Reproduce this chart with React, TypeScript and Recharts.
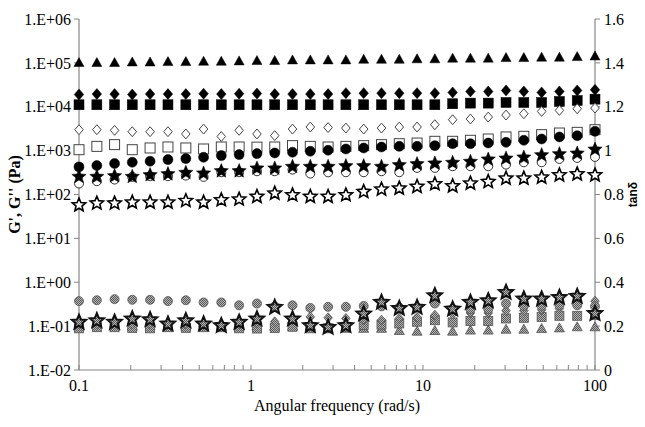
import React from 'react';
import { ScatterChart, Scatter, XAxis, YAxis } from 'recharts';

// Angular frequency (rad/s)
const freq = [0.1, 0.127, 0.161, 0.204, 0.259, 0.329, 0.418, 0.53, 0.672, 0.853, 1.083, 1.374, 1.743, 2.212, 2.807, 3.562, 4.52, 5.736, 7.279, 9.237, 11.72, 14.87, 18.87, 23.95, 30.39, 38.57, 48.94, 62.1, 78.8, 100];

// G', G'' (Pa) – left axis
const filledTriangle = [101800, 101800, 101800, 105000, 105000, 107000, 107000, 109000, 109000, 111000, 113000, 113000, 117000, 117000, 117000, 117000, 121000, 121000, 121000, 124000, 124000, 128000, 128000, 128000, 132000, 132000, 135000, 135000, 139000, 144000];
const filledDiamond = [19000, 19400, 19400, 19000, 19400, 19400, 19400, 19800, 19400, 19800, 20000, 19400, 19400, 19400, 19400, 20400, 20400, 20400, 20400, 20400, 20400, 21200, 22300, 22300, 23500, 22300, 21200, 22300, 23500, 24300];
const filledSquare = [11100, 11100, 11100, 11100, 11100, 11100, 11100, 11100, 11100, 11100, 11100, 11100, 11100, 11100, 11100, 11100, 11100, 11100, 11100, 11100, 11100, 11700, 12100, 12100, 12500, 12500, 12500, 13200, 13900, 14900];
const openDiamond = [3000, 3000, 2900, 2700, 2700, 2700, 2400, 3100, 2100, 2900, 2400, 2200, 3100, 3450, 3350, 3270, 3100, 3270, 3450, 3450, 3900, 5070, 5250, 5820, 6470, 6930, 7830, 8260, 9010, 9330];
const openSquare = [1050, 1250, 1370, 1050, 1150, 1210, 1150, 1090, 1210, 1210, 1200, 1210, 1300, 1250, 1210, 1250, 1300, 1370, 1440, 1490, 1630, 1630, 1720, 1840, 2050, 2120, 2310, 2520, 2610, 3000];
const filledCircle = [426, 456, 507, 543, 573, 624, 658, 705, 770, 811, 855, 885, 916, 966, 1018, 1090, 1150, 1210, 1250, 1250, 1300, 1440, 1440, 1490, 1545, 1720, 1840, 2050, 2190, 2750];
const openCircle = [178, 201, 219, 252, 261, 261, 270, 252, 322, 322, 339, 339, 370, 300, 320, 322, 322, 339, 322, 404, 404, 441, 441, 441, 481, 543, 543, 647, 681, 718];
const filledStar = [261, 261, 270, 261, 285, 300, 322, 311, 351, 351, 404, 404, 441, 441, 441, 456, 456, 441, 481, 507, 525, 543, 573, 647, 681, 718, 811, 855, 885, 1090];
const openStar = [59, 65, 65, 68, 68, 68, 74, 68, 77, 80, 92, 109, 100, 92, 92, 100, 119, 135, 142, 155, 178, 160, 184, 201, 239, 239, 252, 285, 300, 285];

// tan delta – right axis
const tanTriangle = [0.2, 0.21, 0.2, 0.2, 0.2, 0.2, 0.2, 0.215, 0.2, 0.2, 0.2, 0.2, 0.2, 0.2, 0.19, 0.19, 0.19, 0.19, 0.18, 0.177, 0.18, 0.177, 0.182, 0.182, 0.186, 0.186, 0.189, 0.192, 0.197, 0.197];
const tanSquare = [0.19, 0.195, 0.195, 0.192, 0.19, 0.195, 0.192, 0.195, 0.195, 0.19, 0.189, 0.192, 0.197, 0.19, 0.19, 0.197, 0.205, 0.207, 0.212, 0.22, 0.227, 0.217, 0.223, 0.223, 0.235, 0.238, 0.242, 0.247, 0.247, 0.25];
const tanDiamond = [0.21, 0.21, 0.21, 0.21, 0.21, 0.21, 0.21, 0.21, 0.21, 0.21, 0.215, 0.22, 0.23, 0.242, 0.238, 0.235, 0.23, 0.227, 0.235, 0.24, 0.25, 0.255, 0.26, 0.26, 0.27, 0.27, 0.275, 0.28, 0.3, 0.314];
const tanCircle = [0.314, 0.318, 0.323, 0.32, 0.32, 0.314, 0.318, 0.308, 0.308, 0.295, 0.303, 0.29, 0.295, 0.283, 0.288, 0.288, 0.292, 0.29, 0.285, 0.285, 0.303, 0.28, 0.277, 0.277, 0.303, 0.292, 0.292, 0.295, 0.295, 0.29];
const tanStar = [0.22, 0.227, 0.22, 0.235, 0.232, 0.212, 0.227, 0.212, 0.205, 0.22, 0.235, 0.288, 0.235, 0.205, 0.197, 0.205, 0.258, 0.311, 0.283, 0.288, 0.341, 0.28, 0.311, 0.318, 0.356, 0.326, 0.326, 0.333, 0.338, 0.26];

// axis ticks
const xTicks = [0.1, 0.2, 0.3, 0.4, 0.5, 0.6, 0.7, 0.8, 0.9, 1, 2, 3, 4, 5, 6, 7, 8, 9, 10, 20, 30, 40, 50, 60, 70, 80, 90, 100];
const xMajor = [0.1, 1, 10, 100];
const leftTicks = [0.01, 0.1, 1, 10, 100, 1000, 10000, 100000, 1000000];
const rightTicks = [0, 0.2, 0.4, 0.6, 0.8, 1, 1.2, 1.4, 1.6];

const toRows = (vals: number[]) => vals.map((v, i) => ({ f: freq[i], v }));

const AXIS = '#868686';
const SERIF = '"Liberation Serif", "Times New Roman", serif';

type Kind = 'triangle' | 'diamond' | 'square' | 'circle' | 'star';

function starPoints(cx: number, cy: number, R: number, r: number) {
  const pts: string[] = [];
  for (let k = 0; k < 10; k++) {
    const ang = -Math.PI / 2 + (k * Math.PI) / 5;
    const rad = k % 2 === 0 ? R : r;
    pts.push(`${cx + rad * Math.cos(ang)},${cy + rad * Math.sin(ang)}`);
  }
  return pts.join(' ');
}

function Marker(props: any) {
  const { cx, cy, kind, size, fill, stroke, sw } = props;
  if (cx == null || cy == null || isNaN(cx) || isNaN(cy)) return null;
  const h = size / 2;
  const common = { fill, stroke, strokeWidth: sw, strokeLinejoin: 'miter' as const };
  switch (kind as Kind) {
    case 'circle':
      return <circle cx={cx} cy={cy} r={h} {...common} />;
    case 'square':
      return <rect x={cx - h} y={cy - h} width={size} height={size} {...common} />;
    case 'diamond':
      return <polygon points={`${cx},${cy - h * 1.1} ${cx + h * 0.95},${cy} ${cx},${cy + h * 1.1} ${cx - h * 0.95},${cy}`} {...common} />;
    case 'triangle':
      return <polygon points={`${cx},${cy - h} ${cx + h},${cy + h * 0.8} ${cx - h},${cy + h * 0.8}`} {...common} />;
    case 'star':
      return <polygon points={starPoints(cx, cy + 0.5, h, h * 0.45)} {...common} />;
  }
  return null;
}

const PAT = 'url(#chk)';

const series = [
  { name: 'tri', data: filledTriangle, axis: 'left', kind: 'triangle', size: 10, fill: '#000', stroke: '#000', sw: 0.5 },
  { name: 'dia', data: filledDiamond, axis: 'left', kind: 'diamond', size: 10, fill: '#000', stroke: '#000', sw: 0.5 },
  { name: 'sq', data: filledSquare, axis: 'left', kind: 'square', size: 10, fill: '#000', stroke: '#000', sw: 0.5 },
  { name: 'odia', data: openDiamond, axis: 'left', kind: 'diamond', size: 9, fill: '#fff', stroke: '#444', sw: 1 },
  { name: 'osq', data: openSquare, axis: 'left', kind: 'square', size: 10, fill: '#fff', stroke: '#444', sw: 1 },
  { name: 'fc', data: filledCircle, axis: 'left', kind: 'circle', size: 10, fill: '#000', stroke: '#000', sw: 0.5 },
  { name: 'oc', data: openCircle, axis: 'left', kind: 'circle', size: 9, fill: '#fff', stroke: '#000', sw: 0.8 },
  { name: 'fs', data: filledStar, axis: 'left', kind: 'star', size: 15, fill: '#000', stroke: '#000', sw: 0.5 },
  { name: 'os', data: openStar, axis: 'left', kind: 'star', size: 14, fill: '#fff', stroke: '#000', sw: 1.6 },
  { name: 'ttri', data: tanTriangle, axis: 'right', kind: 'triangle', size: 10, fill: PAT, stroke: '#555', sw: 0.8 },
  { name: 'tsq', data: tanSquare, axis: 'right', kind: 'square', size: 9, fill: PAT, stroke: '#555', sw: 0.8 },
  { name: 'tdia', data: tanDiamond, axis: 'right', kind: 'diamond', size: 9, fill: PAT, stroke: '#555', sw: 0.8 },
  { name: 'tc', data: tanCircle, axis: 'right', kind: 'circle', size: 9, fill: PAT, stroke: '#555', sw: 0.8 },
  { name: 'ts', data: tanStar, axis: 'right', kind: 'star', size: 15, fill: PAT, stroke: '#111', sw: 2 },
];

const fmtLeft = (v: number) => {
  const e = Math.round(Math.log10(v));
  return `1.E${e >= 0 ? '+' : '-'}${String(Math.abs(e)).padStart(2, '0')}`;
};
const fmtRight = (v: number) => String(Number(v.toFixed(1)));

function XTick(props: any) {
  const { x, y, payload } = props;
  const v = payload.value;
  const major = xMajor.some((m) => Math.abs(m - v) < 1e-9);
  return (
    <g>
      <line x1={x} x2={x} y1={y} y2={y - 5} stroke={AXIS} strokeWidth={1} />
      {major && (
        <text x={x} y={y + 21} textAnchor="middle" fontFamily={SERIF} fontSize={16} fill="#000">
          {String(v)}
        </text>
      )}
    </g>
  );
}

export default function App() {
  return (
    <div style={{ position: 'absolute', left: 0, top: 0, width: 645, height: 427, background: '#fff' }}>
      <ScatterChart width={645} height={427} margin={{ top: 19, right: 0, bottom: 0, left: 0 }}>
        <defs>
          <pattern id="chk" width="2" height="2" patternUnits="userSpaceOnUse">
            <rect x="0" y="0" width="2" height="2" fill="#b4b4b4" />
            <rect x="0" y="0" width="1" height="1" fill="#5a5a5a" />
            <rect x="1" y="1" width="1" height="1" fill="#5a5a5a" />
          </pattern>
        </defs>
        <XAxis
          type="number"
          dataKey="f"
          scale="log"
          domain={[0.1, 100]}
          ticks={xTicks}
          interval={0}
          height={57}
          tickSize={0}
          tickMargin={0}
          tickLine={false}
          axisLine={{ stroke: AXIS, strokeWidth: 1.2 }}
          tick={<XTick />}
          label={{ value: 'Angular frequency (rad/s)', position: 'insideBottom', offset: 16, style: { fontFamily: SERIF, fontSize: 16, fill: '#000' } }}
        />
        <YAxis
          yAxisId="left"
          orientation="left"
          type="number"
          dataKey="v"
          scale="log"
          domain={[0.01, 1000000]}
          allowDataOverflow
          ticks={leftTicks}
          interval={0}
          width={79}
          tickSize={5}
          tickMargin={3}
          tickFormatter={fmtLeft}
          stroke={AXIS}
          axisLine={{ stroke: AXIS, strokeWidth: 1.2 }}
          tickLine={{ stroke: AXIS }}
          tick={{ fill: '#000', fontFamily: SERIF, fontSize: 16 }}
          label={{ value: "G', G'' (Pa)", angle: -90, position: 'insideLeft', offset: 14, style: { textAnchor: 'middle', fontFamily: SERIF, fontWeight: 'bold', fontSize: 16, fill: '#000' } }}
        />
        <YAxis
          yAxisId="right"
          orientation="right"
          type="number"
          dataKey="v"
          domain={[0, 1.6]}
          allowDataOverflow
          ticks={rightTicks}
          interval={0}
          width={50}
          tickSize={5}
          tickMargin={4}
          tickFormatter={fmtRight}
          stroke={AXIS}
          axisLine={{ stroke: AXIS, strokeWidth: 1.2 }}
          tickLine={{ stroke: AXIS }}
          tick={{ fill: '#000', fontFamily: SERIF, fontSize: 16 }}
          label={{ value: 'tanδ', angle: -90, position: 'insideRight', offset: 12, style: { textAnchor: 'middle', fontFamily: '"Liberation Sans", Arial, sans-serif', fontWeight: 'bold', fontSize: 12, fill: '#000' } }}
        />
        {series.map((s) => (
          <Scatter
            key={s.name}
            name={s.name}
            data={toRows(s.data)}
            yAxisId={s.axis}
            isAnimationActive={false}
            shape={(p: any) => (
              <Marker cx={p.cx} cy={p.cy} kind={s.kind} size={s.size} fill={s.fill} stroke={s.stroke} sw={s.sw} />
            )}
          />
        ))}
      </ScatterChart>
    </div>
  );
}
